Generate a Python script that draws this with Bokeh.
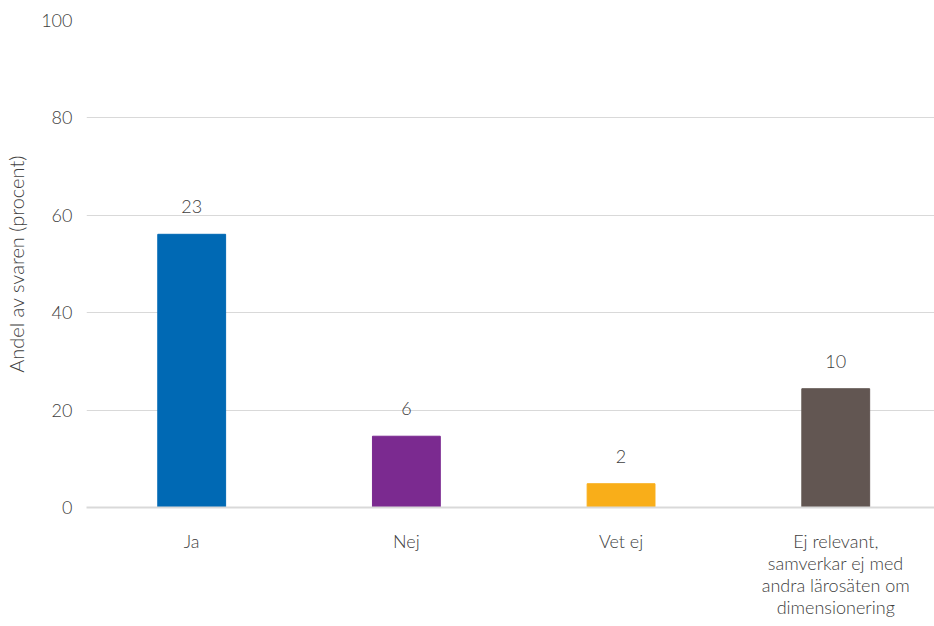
from bokeh.plotting import figure
from bokeh.models import ColumnDataSource, FixedTicker, Range1d
from bokeh.core.properties import value
from bokeh.embed import file_html
from bokeh.resources import INLINE

categories = ["Ja", "Nej", "Vet ej", "Ej relevant,\nsamverkar ej med\nandra lärosäten om\ndimensionering"]
counts = [23, 6, 2, 10]
colors = ["#0069B4", "#7B2A90", "#F9AE19", "#625652"]
y_ticks = [0, 20, 40, 60, 80, 100]

total = sum(counts)
shares = [c / total * 100 for c in counts]
xs = list(range(len(categories)))

src = ColumnDataSource(dict(x=xs, share=shares, color=colors,
                            label=[str(c) for c in counts]))

FONT = "Lato Light"
TXT = "#404040"

p = figure(width=934, height=626, output_backend="svg", toolbar_location=None,
           x_range=Range1d(-0.49, 3.46), y_range=Range1d(0, 100),
           min_border_left=86, min_border_right=0, min_border_top=20, min_border_bottom=119)
p.outline_line_color = None
p.background_fill_color = "white"

p.vbar(x="x", top="share", bottom=0, width=0.316, color="color", source=src)
p.text(x="x", y="share", text="label", source=src, y_offset=-21,
       text_align="center", text_baseline="bottom", text_font=value(FONT),
       text_font_size="18px", text_color=TXT)

p.xgrid.grid_line_color = None
p.ygrid.grid_line_color = "#d9d9d9"
p.ygrid.grid_line_width = 1
p.ygrid.ticker = FixedTicker(ticks=y_ticks)

p.yaxis.ticker = FixedTicker(ticks=y_ticks)
p.yaxis.axis_line_color = None
p.yaxis.major_tick_line_color = None
p.yaxis.minor_tick_line_color = None
p.yaxis.major_label_text_font = FONT
p.yaxis.major_label_text_font_size = "18px"
p.yaxis.major_label_text_color = TXT
p.yaxis.major_label_standoff = 8
p.yaxis.axis_label = "Andel av svaren (procent)"
p.yaxis.axis_label_text_font = FONT
p.yaxis.axis_label_text_font_style = "normal"
p.yaxis.axis_label_text_font_size = "20px"
p.yaxis.axis_label_text_color = TXT
p.yaxis.axis_label_standoff = 10

p.xaxis.ticker = FixedTicker(ticks=xs)
p.xaxis.major_label_overrides = {i: c for i, c in zip(xs, categories)}
p.xaxis.axis_line_color = "#d9d9d9"
p.xaxis.axis_line_width = 2
p.xaxis.major_tick_line_color = None
p.xaxis.minor_tick_line_color = None
p.xaxis.major_label_text_font = FONT
p.xaxis.major_label_text_font_size = "18px"
p.xaxis.major_label_text_color = TXT
p.xaxis.major_label_standoff = 16
p.xaxis.major_label_text_line_height = 1.0

open("out.html", "w").write(file_html(p, INLINE))
